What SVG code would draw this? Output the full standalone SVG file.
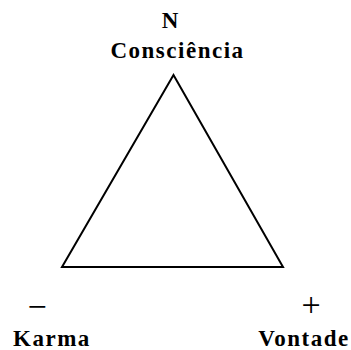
<svg xmlns="http://www.w3.org/2000/svg" width="351" height="350" viewBox="0 0 351 350">
<style>
.t{font-family:"Liberation Serif","Times New Roman",serif;font-weight:bold;font-size:23px;fill:#000;text-anchor:middle}
.s{font-family:"Liberation Serif","Times New Roman",serif;font-size:34px;fill:#000;text-anchor:middle}
</style>
<rect width="351" height="350" fill="#fff"/>
<g id="connectors">
<polygon points="173.5,75 62,267 283,267" fill="none" stroke="#000" stroke-width="2" stroke-linejoin="miter"/>
</g>
<g id="top">
<text class="t" x="170" y="28">N</text>
<text class="t" x="177.5" y="58" letter-spacing="1.5">Consciência</text>
</g>
<g id="karma">
<text class="s" x="37" y="318">−</text>
<text class="t" x="52" y="346" letter-spacing="1.5">Karma</text>
</g>
<g id="vontade">
<text class="s" x="311" y="316">+</text>
<text class="t" x="304" y="346" letter-spacing="1.5">Vontade</text>
</g>
</svg>
